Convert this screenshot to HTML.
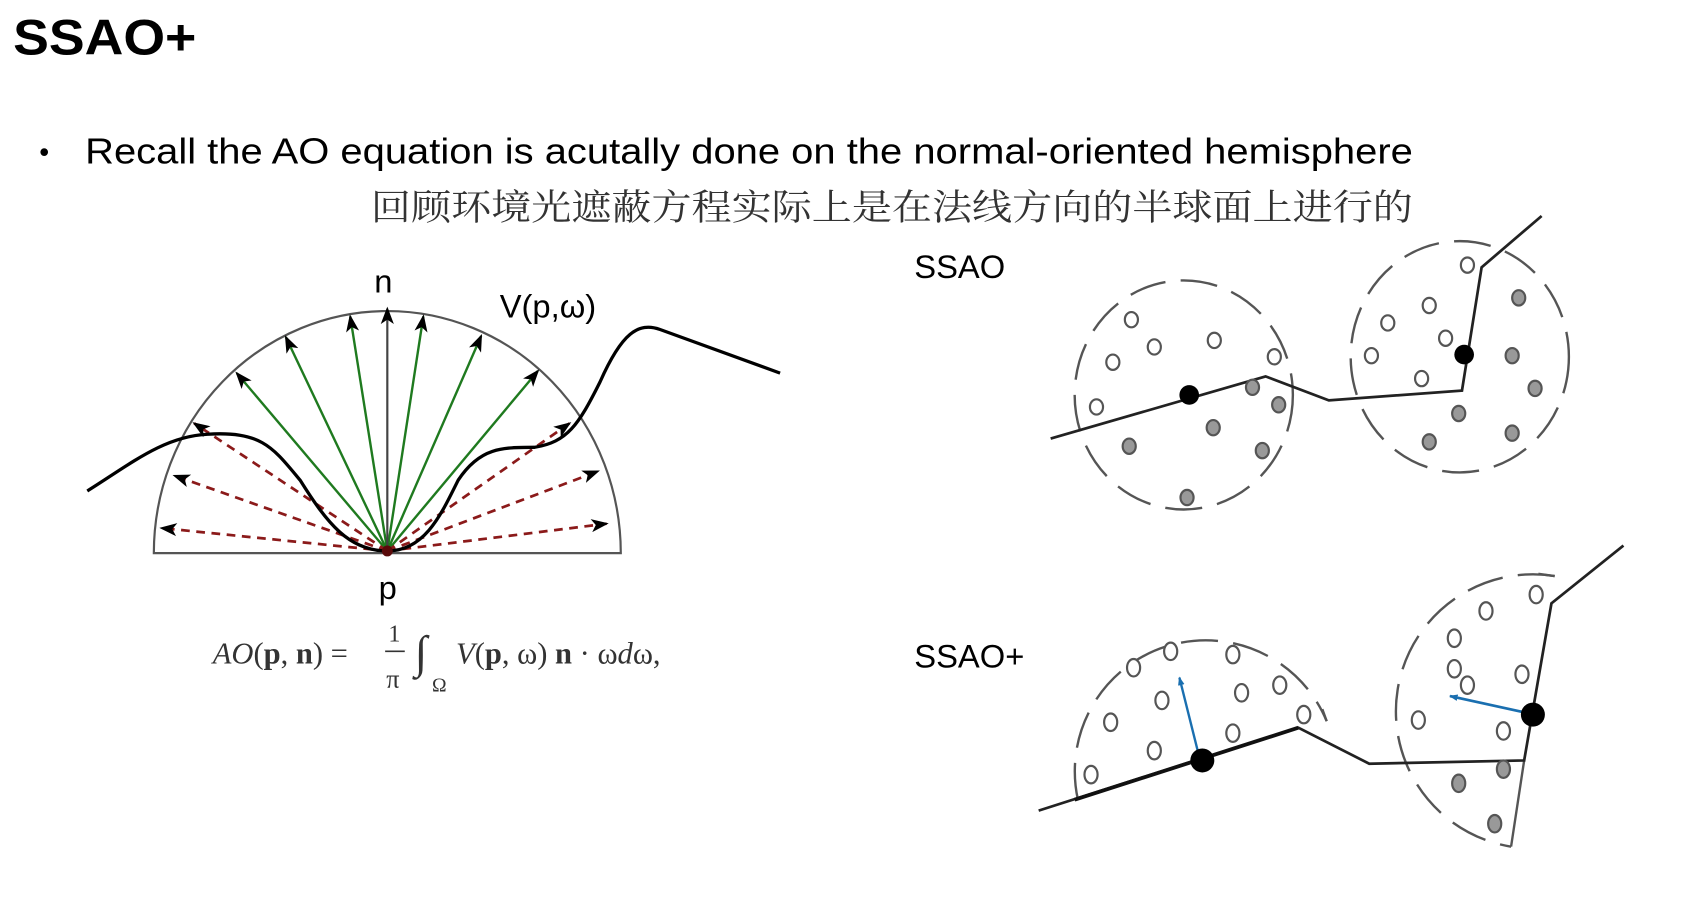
<!DOCTYPE html>
<html><head><meta charset="utf-8"><style>
html,body{margin:0;padding:0;background:#fff;width:1702px;height:899px;overflow:hidden}
svg{display:block}
</style></head><body>
<svg width="1702" height="899" viewBox="0 0 1560 824" preserveAspectRatio="none" xmlns="http://www.w3.org/2000/svg">
<defs>
<marker id="ahb" markerWidth="16" markerHeight="16" refX="14" refY="8" orient="auto" markerUnits="userSpaceOnUse" viewBox="0 0 16 16"><path d="M0,2 L16,8 L0,14 L4,8z" fill="#000"/></marker>
<marker id="bl" markerWidth="8" markerHeight="8" refX="7" refY="4" orient="auto" markerUnits="userSpaceOnUse" viewBox="0 0 8 8"><path d="M0,1 L8,4 L0,7z" fill="#1a6fb0"/></marker>
</defs>
<text x="12" y="50" font-family="Liberation Sans, sans-serif" font-weight="bold" font-size="46" textLength="168" lengthAdjust="spacingAndGlyphs">SSAO+</text>
<text x="36" y="148" font-family="Liberation Sans, sans-serif" font-size="26">•</text>
<text x="78" y="150" font-family="Liberation Sans, sans-serif" font-size="33" textLength="1217" lengthAdjust="spacingAndGlyphs">Recall the AO equation is acutally done on the normal-oriented hemisphere</text>
<text x="340" y="201" font-family="Liberation Serif, 'Noto Serif CJK SC', serif" font-size="33" fill="#333" textLength="955" lengthAdjust="spacingAndGlyphs">回顾环境光遮蔽方程实际上是在法线方向的半球面上进行的</text>

<path d="M141,507 A214,222 0 0 1 569,507 Z" fill="none" stroke="#555" stroke-width="2"/>
<g stroke="#1f7a1f" stroke-width="2.2" marker-end="url(#ahb)">
<line x1="355" y1="505" x2="217" y2="342"/>
<line x1="355" y1="505" x2="262" y2="309"/>
<line x1="355" y1="505" x2="321" y2="290"/>
<line x1="355" y1="505" x2="388" y2="290"/>
<line x1="355" y1="505" x2="441" y2="308"/>
<line x1="355" y1="505" x2="493" y2="340"/>
</g>
<line x1="355" y1="505" x2="355" y2="283" stroke="#444" stroke-width="2" marker-end="url(#ahb)"/>
<g stroke="#8b1a1a" stroke-width="2.5" stroke-dasharray="8,6" marker-end="url(#ahb)">
<line x1="355" y1="505" x2="178" y2="388"/>
<line x1="355" y1="505" x2="160" y2="436"/>
<line x1="355" y1="505" x2="148" y2="484"/>
<line x1="355" y1="505" x2="522" y2="388"/>
<line x1="355" y1="505" x2="548" y2="432"/>
<line x1="355" y1="505" x2="556" y2="480"/>
</g>
<path d="M80,450 C120,425 150,400 190,398 C240,395 250,410 275,440 C300,480 320,505 355,505 C390,505 405,470 420,440 C440,410 460,410 490,410 C520,405 530,390 550,350 C570,305 585,295 605,302 L715,342" fill="none" stroke="#000" stroke-width="3"/>
<circle cx="355" cy="505" r="5" fill="#5a0a0a"/>
<text x="343" y="268" font-family="Liberation Sans, sans-serif" font-size="30">n</text>
<text x="458" y="291" font-family="Liberation Sans, sans-serif" font-size="30">V(p,ω)</text>
<text x="347" y="549" font-family="Liberation Sans, sans-serif" font-size="30">p</text>
<g font-family="Liberation Serif, serif" font-size="28" fill="#333">
<text x="195" y="608"><tspan font-style="italic">AO</tspan>(<tspan font-weight="bold">p</tspan>, <tspan font-weight="bold">n</tspan>) =</text>
<text x="356" y="588" font-size="22">1</text>
<line x1="353" y1="597" x2="371" y2="597" stroke="#333" stroke-width="1.5"/>
<text x="354" y="630" font-size="24">π</text>
<text x="380" y="612" font-size="42">∫</text>
<text x="396" y="634" font-size="18">Ω</text>
<text x="418" y="608"><tspan font-style="italic">V</tspan>(<tspan font-weight="bold">p</tspan>, ω) <tspan font-weight="bold">n</tspan> · ω<tspan font-style="italic">d</tspan>ω,</text>
</g>

<text x="838" y="255" font-family="Liberation Sans, sans-serif" font-size="30">SSAO</text>
<text x="838" y="612" font-family="Liberation Sans, sans-serif" font-size="30">SSAO+</text>

<g fill="none" stroke="#555" stroke-width="2.2" stroke-dasharray="34,14">
<ellipse cx="1085" cy="362" rx="100" ry="105"/>
<ellipse cx="1338" cy="327" rx="100" ry="106"/>
</g>
<polyline points="963,402 1160,345 1218,367 1340,358 1358,245 1413,198" fill="none" stroke="#222" stroke-width="2.5"/>
<g fill="#fff" stroke="#555" stroke-width="2">
<ellipse cx="1037" cy="293" rx="6" ry="7"/><ellipse cx="1058" cy="318" rx="6" ry="7"/><ellipse cx="1113" cy="312" rx="6" ry="7"/><ellipse cx="1020" cy="332" rx="6" ry="7"/><ellipse cx="1168" cy="327" rx="6" ry="7"/><ellipse cx="1005" cy="373" rx="6" ry="7"/>
<ellipse cx="1345" cy="243" rx="6" ry="7"/><ellipse cx="1310" cy="280" rx="6" ry="7"/><ellipse cx="1272" cy="296" rx="6" ry="7"/><ellipse cx="1325" cy="310" rx="6" ry="7"/><ellipse cx="1257" cy="326" rx="6" ry="7"/><ellipse cx="1303" cy="347" rx="6" ry="7"/>
</g>
<g fill="#999" stroke="#555" stroke-width="2">
<ellipse cx="1148" cy="355" rx="6" ry="7"/><ellipse cx="1172" cy="371" rx="6" ry="7"/><ellipse cx="1112" cy="392" rx="6" ry="7"/><ellipse cx="1035" cy="409" rx="6" ry="7"/><ellipse cx="1157" cy="413" rx="6" ry="7"/><ellipse cx="1088" cy="456" rx="6" ry="7"/>
<ellipse cx="1392" cy="273" rx="6" ry="7"/><ellipse cx="1386" cy="326" rx="6" ry="7"/><ellipse cx="1407" cy="356" rx="6" ry="7"/><ellipse cx="1337" cy="379" rx="6" ry="7"/><ellipse cx="1310" cy="405" rx="6" ry="7"/><ellipse cx="1386" cy="397" rx="6" ry="7"/>
</g>
<circle cx="1090" cy="362" r="9" fill="#000"/>
<circle cx="1342" cy="325" r="9" fill="#000"/>

<g fill="none" stroke="#555" stroke-width="2.2">
<path d="M988,733 A120,120 0 0 1 1216,661" stroke-dasharray="34,14"/>
<path d="M1425,528 A123,123 0 0 0 1385,776" stroke-dasharray="34,14"/>
<line x1="1216" y1="661" x2="1212" y2="650"/>
<line x1="1425" y1="528" x2="1410" y2="526"/>
<line x1="1385" y1="776" x2="1397" y2="697"/>
</g>
<polyline points="952,743 1190,667 1255,700 1397,697 1422,553 1488,500" fill="none" stroke="#222" stroke-width="2.5"/>
<line x1="985" y1="733" x2="1190" y2="667" stroke="#111" stroke-width="3.5"/>
<g fill="#fff" stroke="#555" stroke-width="2">
<ellipse cx="1073" cy="597" rx="6" ry="8"/><ellipse cx="1130" cy="600" rx="6" ry="8"/><ellipse cx="1039" cy="612" rx="6" ry="8"/><ellipse cx="1138" cy="635" rx="6" ry="8"/><ellipse cx="1173" cy="628" rx="6" ry="8"/><ellipse cx="1065" cy="642" rx="6" ry="8"/><ellipse cx="1018" cy="662" rx="6" ry="8"/><ellipse cx="1195" cy="655" rx="6" ry="8"/><ellipse cx="1130" cy="672" rx="6" ry="8"/><ellipse cx="1058" cy="688" rx="6" ry="8"/><ellipse cx="1000" cy="710" rx="6" ry="8"/>
<ellipse cx="1408" cy="545" rx="6" ry="8"/><ellipse cx="1362" cy="560" rx="6" ry="8"/><ellipse cx="1333" cy="585" rx="6" ry="8"/><ellipse cx="1333" cy="613" rx="6" ry="8"/><ellipse cx="1395" cy="618" rx="6" ry="8"/><ellipse cx="1345" cy="628" rx="6" ry="8"/><ellipse cx="1300" cy="660" rx="6" ry="8"/><ellipse cx="1378" cy="670" rx="6" ry="8"/>
</g>
<g fill="#999" stroke="#555" stroke-width="2">
<ellipse cx="1378" cy="705" rx="6" ry="8"/><ellipse cx="1337" cy="718" rx="6" ry="8"/><ellipse cx="1370" cy="755" rx="6" ry="8"/>
</g>
<line x1="1100" y1="697" x2="1081" y2="621" stroke="#1a6fb0" stroke-width="2.2" marker-end="url(#bl)"/>
<line x1="1402" y1="654" x2="1329" y2="638" stroke="#1a6fb0" stroke-width="2.5" marker-end="url(#bl)"/>
<circle cx="1102" cy="697" r="11" fill="#000"/>
<circle cx="1405" cy="655" r="11" fill="#000"/>
</svg>
</body></html>
